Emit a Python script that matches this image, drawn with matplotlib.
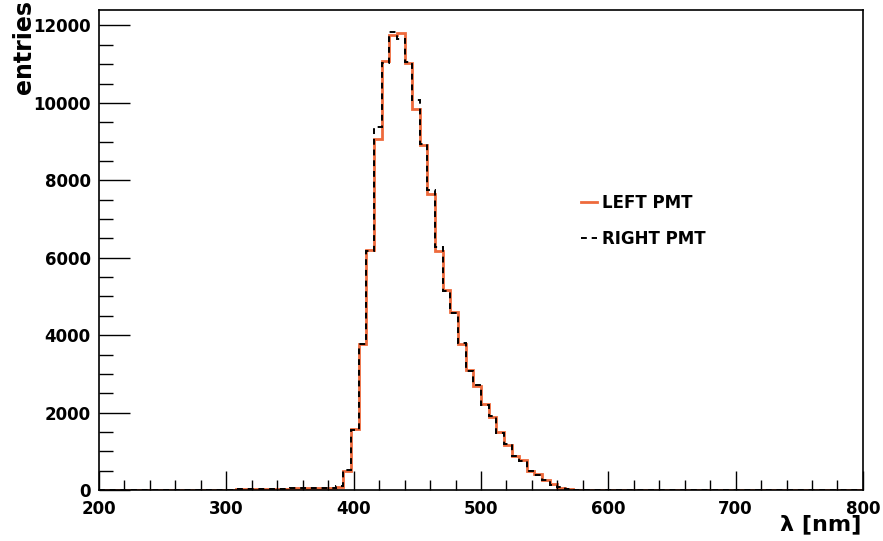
import numpy as np
import matplotlib

matplotlib.use("Agg")
import matplotlib.pyplot as plt  # noqa: E402
from matplotlib.ticker import MultipleLocator  # noqa: E402

plt.rcParams["font.family"] = ["DejaVu Sans"]
plt.rcParams["font.weight"] = "bold"

# 100 bins of 6 nm from 200 to 800 nm
bin_edges = np.linspace(200, 800, 101)

left_pmt = [
    0, 0, 0, 0, 0, 0, 0, 0, 0, 0,
    0, 0, 0, 0, 0, 0, 0, 10, 15, 20,
    20, 25, 30, 30, 35, 40, 40, 45, 50, 55,
    60, 90, 500, 1580, 3780, 6190, 9080, 11090, 11750, 11810,
    11030, 9850, 8900, 7650, 6180, 5170, 4590, 3770, 3100, 2680,
    2210, 1890, 1500, 1160, 880, 770, 490, 410, 260, 150,
    60, 25, 10, 0, 0, 0, 0, 0, 0, 0,
    0, 0, 0, 0, 0, 0, 0, 0, 0, 0,
    0, 0, 0, 0, 0, 0, 0, 0, 0, 0,
    0, 0, 0, 0, 0, 0, 0, 0, 0, 0,
]

right_pmt = [
    0, 0, 0, 0, 0, 0, 0, 0, 0, 0,
    0, 0, 0, 0, 0, 0, 0, 5, 15, 20,
    15, 25, 25, 35, 30, 40, 45, 40, 55, 50,
    55, 95, 510, 1560, 3760, 6170, 9370, 11040, 11840, 11660,
    11060, 10070, 8950, 7740, 6270, 5140, 4560, 3800, 3080, 2700,
    2190, 1910, 1480, 1180, 870, 750, 500, 400, 270, 140,
    70, 20, 10, 0, 0, 0, 0, 0, 0, 0,
    0, 0, 0, 0, 0, 0, 0, 0, 0, 0,
    0, 0, 0, 0, 0, 0, 0, 0, 0, 0,
    0, 0, 0, 0, 0, 0, 0, 0, 0, 0,
]

fig = plt.figure(figsize=(8.83, 5.41), dpi=100)
ax = fig.add_axes([0.1121, 0.0943, 0.8652, 0.8872])

ax.stairs(left_pmt, bin_edges, color="#ee6a3c", linewidth=2.0, label="LEFT PMT")
ax.stairs(right_pmt, bin_edges, color="black", linewidth=1.4,
          linestyle=(0, (3, 2.5)), label="RIGHT PMT")

ax.set_xlim(200, 800)
ax.set_ylim(0, 12400)

ax.xaxis.set_major_locator(MultipleLocator(100))
ax.xaxis.set_minor_locator(MultipleLocator(20))
ax.yaxis.set_major_locator(MultipleLocator(2000))
ax.yaxis.set_minor_locator(MultipleLocator(500))

ax.tick_params(axis="both", which="both", direction="in", width=1.0,
               labelsize=12, top=False, right=False)
ax.tick_params(axis="x", which="major", length=14, pad=7)
ax.tick_params(axis="x", which="minor", length=7)
ax.tick_params(axis="y", which="major", length=22, pad=6)
ax.tick_params(axis="y", which="minor", length=10)
for lbl in ax.get_xticklabels() + ax.get_yticklabels():
    lbl.set_fontweight("bold")

for spine in ax.spines.values():
    spine.set_linewidth(1.2)

fig.text(0.027, 1.0, "entries", rotation=90, ha="center", va="top",
         fontsize=17, fontweight="bold")
fig.text(0.976, 0.031, "λ [nm]", ha="right", va="center",
         fontsize=16, fontweight="bold")

ax.legend(loc="upper left", bbox_to_anchor=(0.622, 0.630), frameon=False,
          handlelength=0.95, handletextpad=0.3, labelspacing=1.08,
          borderpad=0.4, borderaxespad=0.0, prop={"weight": "bold", "size": 12})

fig.savefig("out.png", dpi=100)
